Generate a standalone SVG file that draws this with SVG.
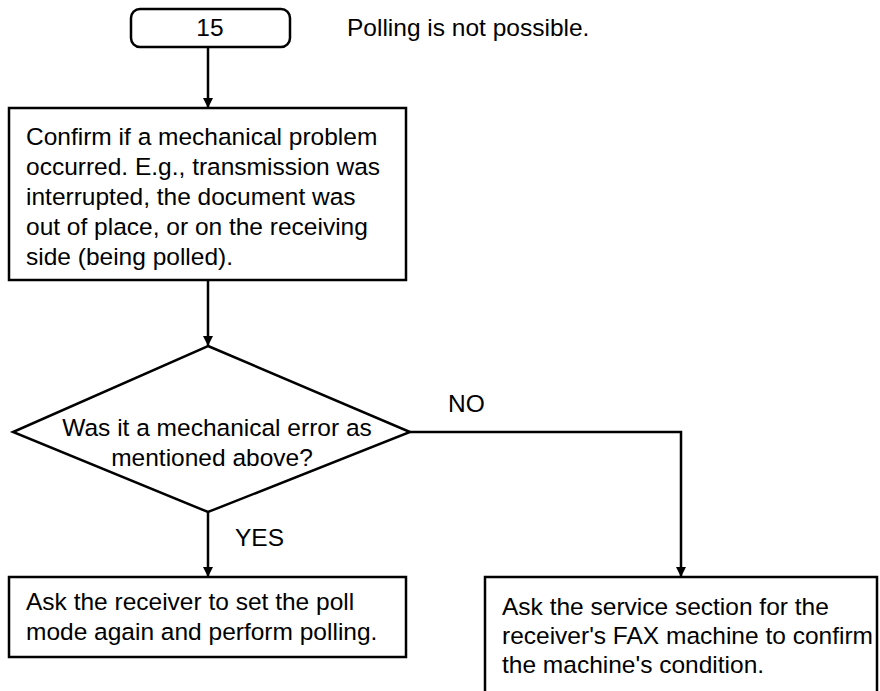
<svg xmlns="http://www.w3.org/2000/svg" width="880" height="691" viewBox="0 0 880 691">
<style>
.s{fill:#fff;stroke:#000;stroke-width:2.5}
.c{fill:none;stroke:#000;stroke-width:2.5}
text{font-family:"Liberation Sans",Arial,sans-serif;font-size:24.5px;fill:#000}
</style>
<defs>
<marker id="a" viewBox="0 0 10 10" refX="10" refY="5" markerWidth="10" markerHeight="10" markerUnits="userSpaceOnUse" orient="auto">
<path d="M0,0L10,5L0,10z" fill="#000"/>
</marker>
</defs>
<rect width="880" height="691" fill="#fff"/>
<g id="connectors">
<path class="c" d="M208,47V108" marker-end="url(#a)"/>
<path class="c" d="M208,280V346" marker-end="url(#a)"/>
<path class="c" d="M208,512V577" marker-end="url(#a)"/>
<path class="c" d="M410,432H681V577" marker-end="url(#a)"/>
<text x="448" y="412">NO</text>
<text x="235" y="546">YES</text>
</g>
<g id="start">
<rect class="s" x="131" y="9" width="159" height="38" rx="9"/>
<text x="210" y="36" text-anchor="middle">15</text>
</g>
<text x="347" y="36">Polling is not possible.</text>
<g id="confirm">
<rect class="s" x="9" y="108" width="397" height="172"/>
<text x="26" y="145">Confirm if a mechanical problem</text>
<text x="26" y="175">occurred. E.g., transmission was</text>
<text x="26" y="205">interrupted, the document was</text>
<text x="26" y="235">out of place, or on the receiving</text>
<text x="26" y="265">side (being polled).</text>
</g>
<g id="decision">
<path class="s" d="M208,346L410,432L208,512L13,432z"/>
<text x="217" y="436" text-anchor="middle">Was it a mechanical error as</text>
<text x="212" y="466" text-anchor="middle">mentioned above?</text>
</g>
<g id="yes">
<rect class="s" x="9" y="577" width="397" height="80"/>
<text x="26" y="610">Ask the receiver to set the poll</text>
<text x="26" y="640">mode again and perform polling.</text>
</g>
<g id="no">
<rect class="s" x="485" y="577" width="392" height="130"/>
<text x="502" y="615">Ask the service section for the</text>
<text x="502" y="644">receiver's FAX machine to confirm</text>
<text x="502" y="673">the machine's condition.</text>
</g>
</svg>
